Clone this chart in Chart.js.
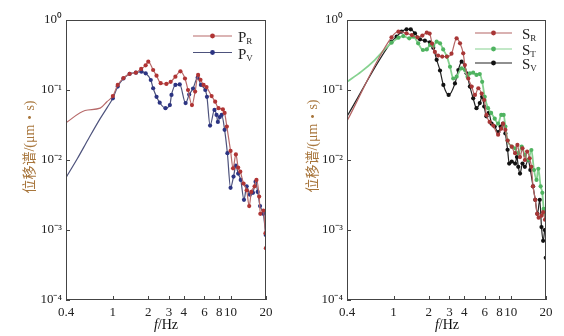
<!DOCTYPE html>
<html>
<head>
<meta charset="utf-8">
<script src="https://cdn.jsdelivr.net/npm/chart.js@4.4.1/dist/chart.umd.min.js"></script>
<style>
html, body { margin: 0; padding: 0; background: #fff; }
#wrap { position: relative; width: 564px; height: 336px; }
.panel { position: absolute; top: 0; width: 282px; height: 336px; }
</style>
</head>
<body>
<div id="wrap">
  <div class="panel" style="left:0"><canvas id="leftChart" width="282" height="336"></canvas></div>
  <div class="panel" style="left:282px"><canvas id="rightChart" width="282" height="336"></canvas></div>
</div>
<script>
// axis ticks
const xTicks = [0.4, 1, 2, 3, 4, 6, 8, 10, 20];
const yTicks = [1e-4, 1e-3, 1e-2, 1e-1, 1];

// left panel: P waves
const prFreq = [0.4, 0.58, 0.78, 0.89, 1.0, 1.1, 1.23, 1.39, 1.57, 1.74, 1.9, 2.0, 2.2, 2.35, 2.55, 2.85, 3.1, 3.4, 3.75, 4.1, 4.35, 4.7, 5.0, 5.3, 5.55, 5.9, 6.25, 6.9, 7.4, 7.9, 8.6, 8.9, 9.3, 10.0, 10.5, 11.1, 11.6, 12.1, 12.9, 13.7, 14.4, 15.0, 16.0, 16.6, 17.5, 17.9, 19.0, 19.8, 19.85, 19.95];
const prAmp = [0.034, 0.051, 0.055, 0.068, 0.082, 0.118, 0.148, 0.17, 0.177, 0.2, 0.225, 0.254, 0.193, 0.16, 0.125, 0.122, 0.131, 0.155, 0.185, 0.146, 0.1, 0.061, 0.095, 0.164, 0.14, 0.118, 0.11, 0.082, 0.068, 0.055, 0.053, 0.047, 0.03, 0.0135, 0.0076, 0.012, 0.0078, 0.0068, 0.0046, 0.0037, 0.0022, 0.0035, 0.0042, 0.0052, 0.003, 0.0017, 0.0019, 0.0009, null, 0.00055];

const pvFreq = [0.4, 0.5, 0.62, 0.78, 0.9, 1.0, 1.1, 1.23, 1.39, 1.57, 1.75, 1.9, 2.1, 2.2, 2.35, 2.5, 2.8, 3.05, 3.15, 3.4, 3.7, 4.15, 4.45, 4.8, 5.25, 5.6, 6.1, 6.3, 6.7, 7.3, 7.6, 7.8, 8.1, 8.4, 8.9, 9.4, 10.0, 10.6, 11.1, 11.6, 12.2, 13.0, 13.7, 14.6, 15.5, 16.3, 17.0, 17.8, 19.0, 19.9];
const pvAmp = [0.0056, 0.0105, 0.02, 0.039, 0.057, 0.076, 0.112, 0.146, 0.17, 0.177, 0.183, 0.173, 0.139, 0.106, 0.08, 0.066, 0.055, 0.061, 0.085, 0.118, 0.12, 0.065, 0.086, 0.105, 0.15, 0.118, 0.1, 0.08, 0.031, 0.052, 0.044, 0.035, 0.041, 0.044, 0.027, 0.0125, 0.004, 0.0058, 0.0083, 0.0064, 0.0052, 0.0027, 0.0042, 0.0032, 0.0034, 0.0049, 0.0035, 0.0022, 0.0017, 0.00085];

// right panel: S waves
const srFreq = [0.4, 0.96, 1.1, 1.29, 1.43, 1.6, 1.76, 1.92, 2.03, 2.13, 2.25, 2.4, 2.6, 2.85, 3.12, 3.45, 3.69, 3.93, 4.06, 4.34, 4.64, 4.95, 5.29, 5.65, 5.94, 6.2, 6.6, 7.1, 7.8, 8.3, 8.6, 9.0, 9.4, 10.2, 10.9, 11.4, 12.0, 12.6, 13.2, 13.8, 14.5, 15.0, 15.5, 16.2, 16.8, 17.3, 18.3, 18.9, 19.6];
const srAmp = [0.036, 0.566, 0.68, 0.645, 0.61, 0.566, 0.6, 0.66, 0.64, 0.46, 0.35, 0.31, 0.3, 0.3, 0.33, 0.547, 0.465, 0.334, 0.227, 0.146, 0.112, 0.085, 0.106, 0.089, 0.072, 0.044, 0.035, 0.031, 0.023, 0.028, 0.033, 0.027, 0.019, 0.0155, 0.0125, 0.0164, 0.011, 0.0147, 0.01, 0.0132, 0.0106, 0.008, 0.0042, 0.0027, 0.0017, 0.0015, 0.0016, 0.0018, 0.0014];

const stFreq = [0.4, 0.53, 0.69, 0.84, 0.96, 1.1, 1.21, 1.36, 1.47, 1.62, 1.78, 1.92, 2.05, 2.18, 2.33, 2.49, 2.65, 2.85, 3.03, 3.23, 3.45, 3.81, 4.06, 4.28, 4.48, 4.78, 5.1, 5.44, 5.7, 6.0, 6.4, 6.8, 7.3, 7.8, 8.3, 8.7, 9.0, 9.4, 10.2, 10.9, 11.6, 12.4, 13.2, 14.1, 15.0, 15.8, 16.6, 17.2, 18.0, 18.6, 19.1, 19.6];
const stAmp = [0.131, 0.183, 0.268, 0.38, 0.474, 0.559, 0.59, 0.547, 0.578, 0.465, 0.373, 0.38, 0.44, 0.425, 0.49, 0.465, 0.38, 0.30, 0.215, 0.146, 0.155, 0.204, 0.193, 0.155, 0.173, 0.177, 0.164, 0.169, 0.131, 0.08, 0.055, 0.047, 0.039, 0.033, 0.044, 0.044, 0.03, 0.019, 0.0155, 0.0147, 0.0125, 0.0155, 0.0118, 0.01, 0.0139, 0.0072, 0.0052, 0.0075, 0.0042, 0.0034, 0.002, 0.0017];

const svFreq = [0.4, 0.96, 1.06, 1.17, 1.29, 1.4, 1.52, 1.68, 1.85, 2.04, 2.18, 2.33, 2.49, 2.66, 2.95, 3.34, 3.57, 3.81, 4.2, 4.48, 4.78, 5.1, 5.44, 5.7, 5.94, 6.2, 6.5, 6.86, 7.3, 7.8, 8.2, 8.6, 9.0, 9.4, 9.7, 10.2, 10.9, 11.3, 11.6, 12.0, 12.6, 13.2, 14.1, 14.7, 15.5, 16.2, 16.9, 17.7, 18.3, 18.9, 19.5, 19.7, 19.9];
const svAmp = [0.042, 0.49, 0.578, 0.68, 0.735, 0.735, 0.645, 0.53, 0.506, 0.48, 0.40, 0.27, 0.19, 0.118, 0.085, 0.124, 0.193, 0.254, 0.173, 0.112, 0.076, 0.055, 0.065, 0.08, 0.058, 0.042, 0.047, 0.033, 0.03, 0.025, 0.03, 0.033, 0.024, 0.014, 0.0089, 0.0095, 0.0089, 0.011, 0.008, 0.0064, 0.0089, 0.008, 0.01, 0.0072, 0.0042, 0.0027, 0.0017, 0.0027, 0.0011, 0.0007, 0.001, null, 0.0004];

const SERIF = '"Liberation Serif", "Times New Roman", "Noto Sans CJK SC", serif';
const SUP = { '-': '\u207B', '0': '\u2070', '1': '\u00B9', '2': '\u00B2', '3': '\u00B3', '4': '\u2074' };

function toPoints(xs, ys) {
    return xs.map((x, i) => ({ x: x, y: ys[i] }));
}

function series(label, xs, ys, line, dot, width) {
    return {
        label: label,
        data: toPoints(xs, ys),
        borderColor: line,
        backgroundColor: dot,
        pointBackgroundColor: dot,
        pointBorderWidth: 0,
        borderWidth: width || 1.2,
        pointRadius: (ctx) => (ctx.raw && ctx.raw.x >= 0.95 ? 2.1 : 0),
        cubicInterpolationMode: 'monotone',
        spanGaps: false,
        fill: false
    };
}

// frame, inward ticks, axis titles and legend
const panelDecor = {
    id: 'panelDecor',
    afterDraw(chart, args, opts) {
        const ctx = chart.ctx;
        const a = chart.chartArea;
        const xs = chart.scales.x, ys = chart.scales.y;
        ctx.save();

        ctx.strokeStyle = '#444';
        ctx.lineWidth = 1;
        ctx.strokeRect(a.left + 0.5, a.top + 0.5, a.right - a.left - 1, a.bottom - a.top - 1);

        ctx.beginPath();
        xTicks.forEach(v => {
            const px = Math.round(xs.getPixelForValue(v)) + 0.5;
            ctx.moveTo(px, a.bottom);
            ctx.lineTo(px, a.bottom - 4);
        });
        yTicks.forEach(v => {
            const py = Math.round(ys.getPixelForValue(v)) + 0.5;
            ctx.moveTo(a.left, py);
            ctx.lineTo(a.left + 4, py);
        });
        ctx.stroke();

        // y title
        ctx.save();
        ctx.translate(opts.yTitleX, opts.yTitleY);
        ctx.rotate(-Math.PI / 2);
        ctx.fillStyle = '#a8763c';
        ctx.font = '14px ' + SERIF;
        ctx.textAlign = 'center';
        ctx.textBaseline = 'middle';
        ctx.fillText('位移谱/(μm・s)', 0, 0);
        ctx.restore();

        // x title with italic f
        ctx.fillStyle = '#111';
        ctx.textBaseline = 'middle';
        ctx.font = 'italic 14px ' + SERIF;
        const fw = ctx.measureText('f').width;
        ctx.font = '14px ' + SERIF;
        const rw = ctx.measureText('/Hz').width;
        let tx = opts.xTitleX - (fw + rw) / 2;
        ctx.textAlign = 'left';
        ctx.font = 'italic 14px ' + SERIF;
        ctx.fillText('f', tx, opts.xTitleY);
        ctx.font = '14px ' + SERIF;
        ctx.fillText('/Hz', tx + fw, opts.xTitleY);

        // legend
        chart.data.datasets.forEach((ds, i) => {
            const y = opts.legendRows[i];
            ctx.strokeStyle = ds.borderColor;
            ctx.lineWidth = 1.2;
            ctx.beginPath();
            ctx.moveTo(opts.legendX0, y);
            ctx.lineTo(opts.legendX1, y);
            ctx.stroke();
            ctx.fillStyle = ds.pointBackgroundColor;
            ctx.beginPath();
            ctx.arc((opts.legendX0 + opts.legendX1) / 2, y, 2.4, 0, Math.PI * 2);
            ctx.fill();
            const parts = ds.label.split('_');
            ctx.fillStyle = '#222';
            ctx.textBaseline = 'alphabetic';
            ctx.font = '15px ' + SERIF;
            ctx.fillText(parts[0], opts.legendTextX, y + 6);
            const w = ctx.measureText(parts[0]).width;
            ctx.font = '9px ' + SERIF;
            ctx.fillText(parts[1], opts.legendTextX + w, y + 8);
        });
        ctx.restore();
    }
};

function makeOptions(cfg) {
    const tickFont = { family: SERIF, size: 13 };
    return {
        responsive: false,
        animation: false,
        layout: { padding: { top: 20, right: cfg.rightPad, left: 0, bottom: 0 } },
        plugins: {
            legend: { display: false },
            tooltip: { enabled: false },
            panelDecor: cfg.decor
        },
        scales: {
            x: {
                type: 'logarithmic',
                min: 0.4,
                max: 20,
                grid: { display: false, drawTicks: false },
                border: { display: false },
                afterBuildTicks: (scale) => { scale.ticks = xTicks.map(v => ({ value: v })); },
                afterFit: (scale) => { scale.height = 36; },
                ticks: {
                    autoSkip: false,
                    maxRotation: 0,
                    padding: 5,
                    color: '#222',
                    font: tickFont,
                    callback: (v) => String(v)
                }
            },
            y: {
                type: 'logarithmic',
                min: 1e-4,
                max: 1,
                grid: { display: false, drawTicks: false },
                border: { display: false },
                afterBuildTicks: (scale) => { scale.ticks = yTicks.map(v => ({ value: v })); },
                afterFit: (scale) => { scale.width = cfg.leftW; },
                ticks: {
                    padding: 4,
                    color: '#222',
                    font: tickFont,
                    callback: (v) => {
                        const e = String(Math.round(Math.log10(v)));
                        return '10' + e.split('').map(c => SUP[c]).join('');
                    }
                }
            }
        }
    };
}

new Chart(document.getElementById('leftChart').getContext('2d'), {
    type: 'line',
    data: {
        datasets: [
            series('P_R', prFreq, prAmp, '#b76a6a', '#b03434'),
            series('P_V', pvFreq, pvAmp, '#4d527c', '#2c3482')
        ]
    },
    options: makeOptions({
        leftW: 66, rightPad: 16,
        decor: { yTitleX: 30, yTitleY: 147, xTitleX: 166, xTitleY: 325,
                 legendRows: [36, 52.5], legendX0: 193, legendX1: 232, legendTextX: 238 }
    }),
    plugins: [panelDecor]
});

new Chart(document.getElementById('rightChart').getContext('2d'), {
    type: 'line',
    data: {
        datasets: [
            series('S_R', srFreq, srAmp, '#b46464', '#a83636'),
            series('S_T', stFreq, stAmp, '#86d290', '#4fb360', 1.8),
            series('S_V', svFreq, svAmp, '#222222', '#111111')
        ]
    },
    options: makeOptions({
        leftW: 65, rightPad: 18,
        decor: { yTitleX: 31, yTitleY: 146, xTitleX: 165, xTitleY: 325,
                 legendRows: [33, 49, 63], legendX0: 193, legendX1: 230, legendTextX: 240 }
    }),
    plugins: [panelDecor]
});
</script>
</body>
</html>
